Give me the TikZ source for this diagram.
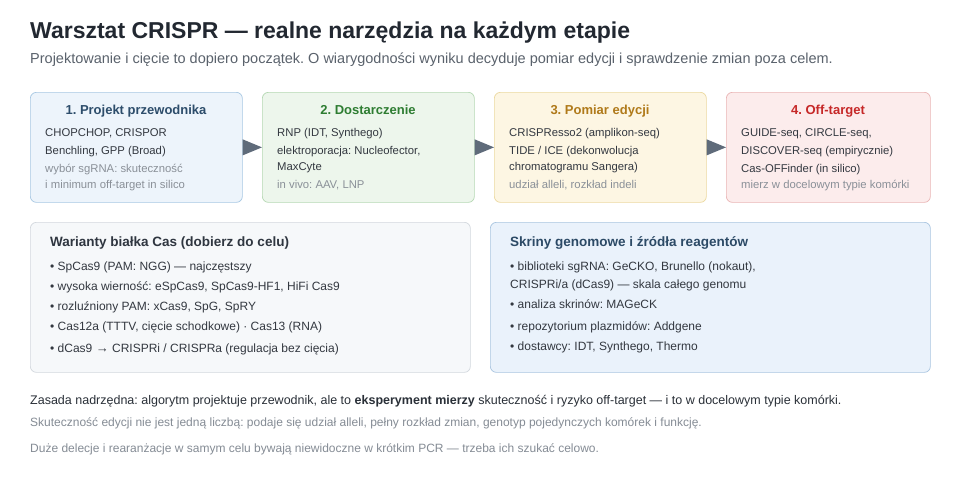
\documentclass[tikz,border=0pt]{standalone}
\usepackage{fontspec}
\setmainfont{Liberation Sans}
\definecolor{body}{HTML}{333840}
\definecolor{grayt}{HTML}{8A9098}
\definecolor{arrc}{HTML}{5F6B7A}
\definecolor{ctitle}{HTML}{222831}
\definecolor{csub}{HTML}{5A626C}
\definecolor{bd1}{HTML}{A8C8E3}\definecolor{fl1}{HTML}{EDF4FB}\definecolor{tt1}{HTML}{2D4D6B}
\definecolor{bd2}{HTML}{B5D8B3}\definecolor{fl2}{HTML}{EDF6EC}\definecolor{tt2}{HTML}{2E7D32}
\definecolor{bd3}{HTML}{ECD9A0}\definecolor{fl3}{HTML}{FDF6E3}\definecolor{tt3}{HTML}{B07A1A}
\definecolor{bd4}{HTML}{EAB5B5}\definecolor{fl4}{HTML}{FCECEC}\definecolor{tt4}{HTML}{C62828}
\definecolor{bd5}{HTML}{D3D8DE}\definecolor{fl5}{HTML}{F6F8FA}\definecolor{tt5}{HTML}{2F3640}
\definecolor{bd6}{HTML}{A9C5E0}\definecolor{fl6}{HTML}{EAF2FB}\definecolor{tt6}{HTML}{2C4A66}
\definecolor{cf1}{HTML}{2A3038}
\definecolor{cf2}{HTML}{858C95}
\frenchspacing
\begin{document}
\begin{tikzpicture}[x=1pt,y=-1pt,
  box/.style={rounded corners=6pt, line width=0.7pt, minimum height=110pt, anchor=north west, inner sep=0},
  ttl/.style={font=\fontsize{13}{15}\selectfont\bfseries, anchor=base},
  ln/.style={font=\fontsize{11.3}{13}\selectfont, anchor=base west, text=body, inner sep=0},
  gl/.style={ln, text=grayt},
  bl/.style={font=\fontsize{12}{14}\selectfont, anchor=base west, text=body, inner sep=0}]
\useasboundingbox (0,0) rectangle (960,480);
\fill[white] (0,0) rectangle (960,480);
\node[anchor=base west, inner sep=0, font=\fontsize{23}{26}\selectfont\bfseries, text=ctitle] (title) at (30,38) {Warsztat CRISPR — realne narzędzia na każdym etapie};
\node[anchor=base west, inner sep=0, font=\fontsize{14.5}{17}\selectfont, text=csub] (sub) at (30,63) {Projektowanie i cięcie to dopiero początek. O wiarygodności wyniku decyduje pomiar edycji i sprawdzenie zmian poza celem.};
% boxes
\node[box, draw=bd1, fill=fl1, minimum width=212pt] (b1) at (30,92) {};
\node[box, draw=bd2, fill=fl2, minimum width=212pt] (b2) at (262,92) {};
\node[box, draw=bd3, fill=fl3, minimum width=212pt] (b3) at (494,92) {};
\node[box, draw=bd4, fill=fl4, minimum width=204pt] (b4) at (726,92) {};
\foreach \a/\b in {b1/b2,b2/b3,b3/b4}{
  \fill[arrc] ([yshift=-8pt]\a.east) -- ([yshift=8pt]\a.east) -- (\b.west) -- cycle;
}
\node[ttl, text=tt1] (t1) at (136,114) {1. Projekt przewodnika};
\node[ln] (l11) at (45,136) {CHOPCHOP, CRISPOR};
\node[ln] (l12) at (45,154) {Benchling, GPP (Broad)};
\node[gl] (l13) at (45,172) {wybór sgRNA: skuteczność};
\node[gl] (l14) at (45,188) {i minimum off-target in silico};
\node[ttl, text=tt2] (t2) at (368,114) {2. Dostarczenie};
\node[ln] (l21) at (277,136) {RNP (IDT, Synthego)};
\node[ln] (l22) at (277,154) {elektroporacja: Nucleofector,};
\node[ln] (l23) at (277,170) {MaxCyte};
\node[gl] (l24) at (277,188) {in vivo: AAV, LNP};
\node[ttl, text=tt3] (t3) at (600,114) {3. Pomiar edycji};
\node[ln] (l31) at (509,136) {CRISPResso2 (amplikon-seq)};
\node[ln] (l32) at (509,154) {TIDE / ICE (dekonwolucja};
\node[ln] (l33) at (509,170) {chromatogramu Sangera)};
\node[gl] (l34) at (509,188) {udział alleli, rozkład indeli};
\node[ttl, text=tt4] (t4) at (828,114) {4. Off-target};
\node[ln] (l41) at (741,136) {GUIDE-seq, CIRCLE-seq,};
\node[ln] (l42) at (741,154) {DISCOVER-seq (empirycznie)};
\node[ln] (l43) at (741,172) {Cas-OFFinder (in silico)};
\node[gl] (l44) at (741,188) {mierz w docelowym typie komórki};
% row 2
\node[box, draw=bd5, fill=fl5, minimum width=440pt, minimum height=150pt] (p1) at (30,222) {};
\node[box, draw=bd6, fill=fl6, minimum width=440pt, minimum height=150pt] (p2) at (490,222) {};
\node[anchor=base west, inner sep=0, font=\fontsize{13.5}{16}\selectfont\bfseries, text=tt5] (c0) at (50,246) {Warianty białka Cas (dobierz do celu)};
\node[bl] (c1) at (50,270) {• SpCas9 (PAM: NGG) — najczęstszy};
\node[bl] (c2) at (50,290) {• wysoka wierność: eSpCas9, SpCas9-HF1, HiFi Cas9};
\node[bl] (c3) at (50,310) {• rozluźniony PAM: xCas9, SpG, SpRY};
\node[bl] (c4) at (50,330) {• Cas12a (TTTV, cięcie schodkowe) · Cas13 (RNA)};
\node[bl] (c5) at (50,352) {• dCas9 {\fontsize{13}{14}\selectfont →} CRISPRi / CRISPRa (regulacja bez cięcia)};
\node[anchor=base west, inner sep=0, font=\fontsize{13.5}{16}\selectfont\bfseries, text=tt6] (s0) at (510,246) {Skriny genomowe i źródła reagentów};
\node[bl] (s1) at (510,270) {• biblioteki sgRNA: GeCKO, Brunello (nokaut),};
\node[bl] (s2) at (510,288) {CRISPRi/a (dCas9) — skala całego genomu};
\node[bl] (s3) at (510,308) {• analiza skrinów: MAGeCK};
\node[bl] (s4) at (510,330) {• repozytorium plazmidów: Addgene};
\node[bl] (s5) at (510,350) {• dostawcy: IDT, Synthego, Thermo};
% bottom
\node[anchor=base west, inner sep=0, font=\fontsize{12.5}{15}\selectfont, text=cf1] (f1) at (30,404) {Zasada nadrzędna: algorytm projektuje przewodnik, ale to \textbf{eksperyment mierzy} skuteczność i ryzyko off-target — i to w docelowym typie komórki.};
\node[anchor=base west, inner sep=0, font=\fontsize{12}{14}\selectfont, text=cf2] (f2) at (30,426) {Skuteczność edycji nie jest jedną liczbą: podaje się udział alleli, pełny rozkład zmian, genotyp pojedynczych komórek i funkcję.};
\node[anchor=base west, inner sep=0, font=\fontsize{12}{14}\selectfont, text=cf2] (f3) at (30,452) {Duże delecje i rearanżacje w samym celu bywają niewidoczne w krótkim PCR — trzeba ich szukać celowo.};
\end{tikzpicture}
\end{document}
